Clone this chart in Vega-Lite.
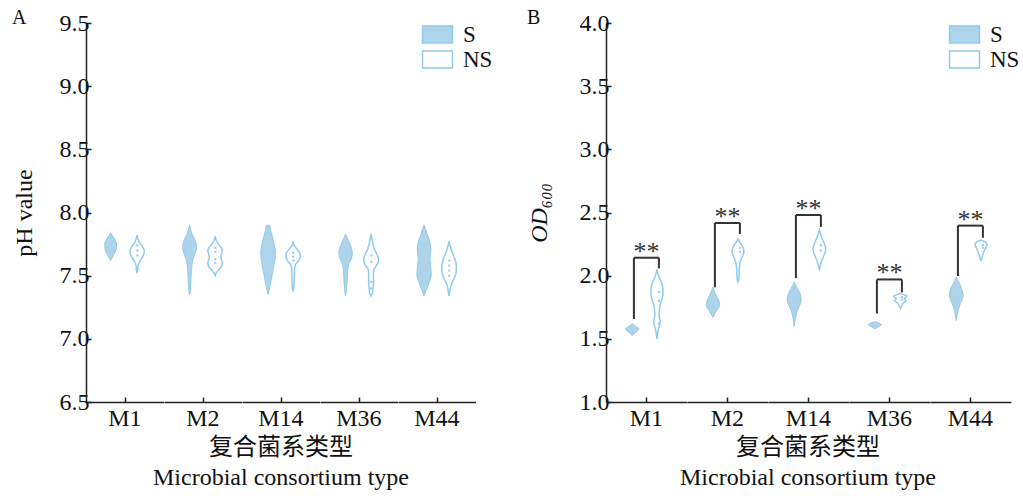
{
 "$schema": "https://vega.github.io/schema/vega-lite/v6.json",
 "padding": {"left": 12, "top": 8, "right": 2, "bottom": 0},
 "config": {
  "font": "Liberation Serif",
  "view": {"stroke": null},
  "axis": {"grid": false, "domainColor": "#222", "tickColor": "#222", "labelColor": "#111", "titleColor": "#111", "labelFont": "Liberation Serif", "titleFont": "Liberation Serif", "labelFontSize": 24, "titleFontSize": 24, "titleFontWeight": "normal", "domainWidth": 1.5, "tickWidth": 1.5},
  "header": {"labelOrient": "bottom", "titleOrient": "bottom", "labelFont": "Liberation Serif", "labelFontSize": 24, "labelColor": "#111", "labelPadding": 4, "titleFont": "Liberation Serif, Noto Sans CJK SC", "titleFontSize": 24, "titleFontWeight": "normal", "titleColor": "#111", "titlePadding": -5, "titleLineHeight": 30}
 },
 "datasets": {
  "vals": [
   {"panel":"A","group":"M1","series":"S","value":7.84,"density":0},{"panel":"A","group":"M1","series":"S","value":7.82,"density":3},{"panel":"A","group":"M1","series":"S","value":7.79,"density":8},{"panel":"A","group":"M1","series":"S","value":7.76,"density":12},{"panel":"A","group":"M1","series":"S","value":7.73,"density":12},{"panel":"A","group":"M1","series":"S","value":7.70,"density":11},{"panel":"A","group":"M1","series":"S","value":7.67,"density":7},{"panel":"A","group":"M1","series":"S","value":7.64,"density":3},{"panel":"A","group":"M1","series":"S","value":7.62,"density":0},
   {"panel":"A","group":"M1","series":"NS","value":7.82,"density":0},{"panel":"A","group":"M1","series":"NS","value":7.79,"density":2},{"panel":"A","group":"M1","series":"NS","value":7.76,"density":5},{"panel":"A","group":"M1","series":"NS","value":7.73,"density":11},{"panel":"A","group":"M1","series":"NS","value":7.70,"density":15},{"panel":"A","group":"M1","series":"NS","value":7.67,"density":14},{"panel":"A","group":"M1","series":"NS","value":7.64,"density":10},{"panel":"A","group":"M1","series":"NS","value":7.61,"density":5},{"panel":"A","group":"M1","series":"NS","value":7.58,"density":2},{"panel":"A","group":"M1","series":"NS","value":7.55,"density":1.5},{"panel":"A","group":"M1","series":"NS","value":7.52,"density":0},
   {"panel":"A","group":"M2","series":"S","value":7.90,"density":0},{"panel":"A","group":"M2","series":"S","value":7.87,"density":2},{"panel":"A","group":"M2","series":"S","value":7.83,"density":5},{"panel":"A","group":"M2","series":"S","value":7.79,"density":10},{"panel":"A","group":"M2","series":"S","value":7.75,"density":14},{"panel":"A","group":"M2","series":"S","value":7.71,"density":14},{"panel":"A","group":"M2","series":"S","value":7.67,"density":11},{"panel":"A","group":"M2","series":"S","value":7.63,"density":7},{"panel":"A","group":"M2","series":"S","value":7.59,"density":5},{"panel":"A","group":"M2","series":"S","value":7.55,"density":4},{"panel":"A","group":"M2","series":"S","value":7.50,"density":3},{"panel":"A","group":"M2","series":"S","value":7.45,"density":2.5},{"panel":"A","group":"M2","series":"S","value":7.40,"density":2},{"panel":"A","group":"M2","series":"S","value":7.36,"density":1},{"panel":"A","group":"M2","series":"S","value":7.35,"density":0},
   {"panel":"A","group":"M2","series":"NS","value":7.81,"density":0},{"panel":"A","group":"M2","series":"NS","value":7.78,"density":2},{"panel":"A","group":"M2","series":"NS","value":7.75,"density":7},{"panel":"A","group":"M2","series":"NS","value":7.72,"density":13},{"panel":"A","group":"M2","series":"NS","value":7.70,"density":15},{"panel":"A","group":"M2","series":"NS","value":7.68,"density":14},{"panel":"A","group":"M2","series":"NS","value":7.655,"density":12},{"panel":"A","group":"M2","series":"NS","value":7.63,"density":13},{"panel":"A","group":"M2","series":"NS","value":7.60,"density":15},{"panel":"A","group":"M2","series":"NS","value":7.57,"density":13},{"panel":"A","group":"M2","series":"NS","value":7.54,"density":6},{"panel":"A","group":"M2","series":"NS","value":7.52,"density":2},{"panel":"A","group":"M2","series":"NS","value":7.50,"density":0},
   {"panel":"A","group":"M14","series":"S","value":7.90,"density":0},{"panel":"A","group":"M14","series":"S","value":7.895,"density":4},{"panel":"A","group":"M14","series":"S","value":7.86,"density":5},{"panel":"A","group":"M14","series":"S","value":7.82,"density":8},{"panel":"A","group":"M14","series":"S","value":7.78,"density":11},{"panel":"A","group":"M14","series":"S","value":7.74,"density":13},{"panel":"A","group":"M14","series":"S","value":7.70,"density":15},{"panel":"A","group":"M14","series":"S","value":7.66,"density":15},{"panel":"A","group":"M14","series":"S","value":7.62,"density":14},{"panel":"A","group":"M14","series":"S","value":7.58,"density":12},{"panel":"A","group":"M14","series":"S","value":7.54,"density":10},{"panel":"A","group":"M14","series":"S","value":7.50,"density":8},{"panel":"A","group":"M14","series":"S","value":7.46,"density":6},{"panel":"A","group":"M14","series":"S","value":7.42,"density":4},{"panel":"A","group":"M14","series":"S","value":7.38,"density":2},{"panel":"A","group":"M14","series":"S","value":7.35,"density":0},
   {"panel":"A","group":"M14","series":"NS","value":7.77,"density":0},{"panel":"A","group":"M14","series":"NS","value":7.74,"density":2},{"panel":"A","group":"M14","series":"NS","value":7.71,"density":8},{"panel":"A","group":"M14","series":"NS","value":7.68,"density":14},{"panel":"A","group":"M14","series":"NS","value":7.65,"density":15},{"panel":"A","group":"M14","series":"NS","value":7.62,"density":12},{"panel":"A","group":"M14","series":"NS","value":7.59,"density":5},{"panel":"A","group":"M14","series":"NS","value":7.56,"density":3},{"panel":"A","group":"M14","series":"NS","value":7.50,"density":2.5},{"panel":"A","group":"M14","series":"NS","value":7.44,"density":2},{"panel":"A","group":"M14","series":"NS","value":7.40,"density":1.5},{"panel":"A","group":"M14","series":"NS","value":7.38,"density":0},
   {"panel":"A","group":"M36","series":"S","value":7.83,"density":0},{"panel":"A","group":"M36","series":"S","value":7.80,"density":3},{"panel":"A","group":"M36","series":"S","value":7.76,"density":8},{"panel":"A","group":"M36","series":"S","value":7.72,"density":12},{"panel":"A","group":"M36","series":"S","value":7.68,"density":14},{"panel":"A","group":"M36","series":"S","value":7.65,"density":13},{"panel":"A","group":"M36","series":"S","value":7.62,"density":10},{"panel":"A","group":"M36","series":"S","value":7.59,"density":6},{"panel":"A","group":"M36","series":"S","value":7.56,"density":5},{"panel":"A","group":"M36","series":"S","value":7.52,"density":4},{"panel":"A","group":"M36","series":"S","value":7.48,"density":3.5},{"panel":"A","group":"M36","series":"S","value":7.44,"density":3},{"panel":"A","group":"M36","series":"S","value":7.40,"density":2},{"panel":"A","group":"M36","series":"S","value":7.36,"density":1},{"panel":"A","group":"M36","series":"S","value":7.34,"density":0},
   {"panel":"A","group":"M36","series":"NS","value":7.83,"density":0},{"panel":"A","group":"M36","series":"NS","value":7.79,"density":2},{"panel":"A","group":"M36","series":"NS","value":7.75,"density":4},{"panel":"A","group":"M36","series":"NS","value":7.71,"density":7},{"panel":"A","group":"M36","series":"NS","value":7.67,"density":12},{"panel":"A","group":"M36","series":"NS","value":7.64,"density":15},{"panel":"A","group":"M36","series":"NS","value":7.61,"density":15},{"panel":"A","group":"M36","series":"NS","value":7.58,"density":11},{"panel":"A","group":"M36","series":"NS","value":7.55,"density":6},{"panel":"A","group":"M36","series":"NS","value":7.52,"density":5},{"panel":"A","group":"M36","series":"NS","value":7.48,"density":5},{"panel":"A","group":"M36","series":"NS","value":7.44,"density":5},{"panel":"A","group":"M36","series":"NS","value":7.40,"density":4},{"panel":"A","group":"M36","series":"NS","value":7.36,"density":3},{"panel":"A","group":"M36","series":"NS","value":7.34,"density":0},
   {"panel":"A","group":"M44","series":"S","value":7.90,"density":0},{"panel":"A","group":"M44","series":"S","value":7.87,"density":3},{"panel":"A","group":"M44","series":"S","value":7.83,"density":6},{"panel":"A","group":"M44","series":"S","value":7.79,"density":10},{"panel":"A","group":"M44","series":"S","value":7.75,"density":13},{"panel":"A","group":"M44","series":"S","value":7.71,"density":14},{"panel":"A","group":"M44","series":"S","value":7.67,"density":13},{"panel":"A","group":"M44","series":"S","value":7.63,"density":12},{"panel":"A","group":"M44","series":"S","value":7.59,"density":13},{"panel":"A","group":"M44","series":"S","value":7.55,"density":14},{"panel":"A","group":"M44","series":"S","value":7.51,"density":15},{"panel":"A","group":"M44","series":"S","value":7.47,"density":13},{"panel":"A","group":"M44","series":"S","value":7.43,"density":9},{"panel":"A","group":"M44","series":"S","value":7.39,"density":5},{"panel":"A","group":"M44","series":"S","value":7.36,"density":2},{"panel":"A","group":"M44","series":"S","value":7.34,"density":0},
   {"panel":"A","group":"M44","series":"NS","value":7.77,"density":0},{"panel":"A","group":"M44","series":"NS","value":7.74,"density":2},{"panel":"A","group":"M44","series":"NS","value":7.70,"density":5},{"panel":"A","group":"M44","series":"NS","value":7.66,"density":9},{"panel":"A","group":"M44","series":"NS","value":7.62,"density":13},{"panel":"A","group":"M44","series":"NS","value":7.58,"density":15},{"panel":"A","group":"M44","series":"NS","value":7.54,"density":15},{"panel":"A","group":"M44","series":"NS","value":7.50,"density":13},{"panel":"A","group":"M44","series":"NS","value":7.46,"density":8},{"panel":"A","group":"M44","series":"NS","value":7.42,"density":4},{"panel":"A","group":"M44","series":"NS","value":7.39,"density":2},{"panel":"A","group":"M44","series":"NS","value":7.36,"density":1},{"panel":"A","group":"M44","series":"NS","value":7.34,"density":0},

   {"panel":"B","group":"M1","series":"S","value":1.62,"density":0},{"panel":"B","group":"M1","series":"S","value":1.60,"density":8},{"panel":"B","group":"M1","series":"S","value":1.58,"density":17},{"panel":"B","group":"M1","series":"S","value":1.56,"density":12},{"panel":"B","group":"M1","series":"S","value":1.54,"density":4},{"panel":"B","group":"M1","series":"S","value":1.525,"density":0},
   {"panel":"B","group":"M1","series":"NS","value":2.05,"density":0},{"panel":"B","group":"M1","series":"NS","value":2.02,"density":2},{"panel":"B","group":"M1","series":"NS","value":1.99,"density":5},{"panel":"B","group":"M1","series":"NS","value":1.96,"density":9},{"panel":"B","group":"M1","series":"NS","value":1.93,"density":13},{"panel":"B","group":"M1","series":"NS","value":1.89,"density":15},{"panel":"B","group":"M1","series":"NS","value":1.85,"density":15},{"panel":"B","group":"M1","series":"NS","value":1.81,"density":12},{"panel":"B","group":"M1","series":"NS","value":1.77,"density":8},{"panel":"B","group":"M1","series":"NS","value":1.73,"density":6},{"panel":"B","group":"M1","series":"NS","value":1.70,"density":5},{"panel":"B","group":"M1","series":"NS","value":1.67,"density":6},{"panel":"B","group":"M1","series":"NS","value":1.64,"density":8},{"panel":"B","group":"M1","series":"NS","value":1.61,"density":7},{"panel":"B","group":"M1","series":"NS","value":1.58,"density":4},{"panel":"B","group":"M1","series":"NS","value":1.55,"density":2},{"panel":"B","group":"M1","series":"NS","value":1.52,"density":1},{"panel":"B","group":"M1","series":"NS","value":1.50,"density":0},
   {"panel":"B","group":"M2","series":"S","value":1.91,"density":0},{"panel":"B","group":"M2","series":"S","value":1.88,"density":3},{"panel":"B","group":"M2","series":"S","value":1.85,"density":7},{"panel":"B","group":"M2","series":"S","value":1.82,"density":12},{"panel":"B","group":"M2","series":"S","value":1.79,"density":16},{"panel":"B","group":"M2","series":"S","value":1.76,"density":16},{"panel":"B","group":"M2","series":"S","value":1.73,"density":11},{"panel":"B","group":"M2","series":"S","value":1.70,"density":5},{"panel":"B","group":"M2","series":"S","value":1.68,"density":1.5},{"panel":"B","group":"M2","series":"S","value":1.67,"density":0},
   {"panel":"B","group":"M2","series":"NS","value":2.29,"density":0},{"panel":"B","group":"M2","series":"NS","value":2.27,"density":3},{"panel":"B","group":"M2","series":"NS","value":2.25,"density":8},{"panel":"B","group":"M2","series":"NS","value":2.22,"density":13},{"panel":"B","group":"M2","series":"NS","value":2.19,"density":15},{"panel":"B","group":"M2","series":"NS","value":2.16,"density":12},{"panel":"B","group":"M2","series":"NS","value":2.13,"density":8},{"panel":"B","group":"M2","series":"NS","value":2.10,"density":5},{"panel":"B","group":"M2","series":"NS","value":2.07,"density":3.5},{"panel":"B","group":"M2","series":"NS","value":2.03,"density":3},{"panel":"B","group":"M2","series":"NS","value":1.99,"density":2.5},{"panel":"B","group":"M2","series":"NS","value":1.96,"density":1.5},{"panel":"B","group":"M2","series":"NS","value":1.95,"density":0},
   {"panel":"B","group":"M14","series":"S","value":1.95,"density":0},{"panel":"B","group":"M14","series":"S","value":1.92,"density":4},{"panel":"B","group":"M14","series":"S","value":1.89,"density":9},{"panel":"B","group":"M14","series":"S","value":1.86,"density":14},{"panel":"B","group":"M14","series":"S","value":1.83,"density":17},{"panel":"B","group":"M14","series":"S","value":1.80,"density":17},{"panel":"B","group":"M14","series":"S","value":1.77,"density":14},{"panel":"B","group":"M14","series":"S","value":1.74,"density":10},{"panel":"B","group":"M14","series":"S","value":1.71,"density":6},{"panel":"B","group":"M14","series":"S","value":1.68,"density":4},{"panel":"B","group":"M14","series":"S","value":1.65,"density":2},{"panel":"B","group":"M14","series":"S","value":1.62,"density":1},{"panel":"B","group":"M14","series":"S","value":1.60,"density":0},
   {"panel":"B","group":"M14","series":"NS","value":2.36,"density":0},{"panel":"B","group":"M14","series":"NS","value":2.33,"density":3},{"panel":"B","group":"M14","series":"NS","value":2.30,"density":6},{"panel":"B","group":"M14","series":"NS","value":2.27,"density":10},{"panel":"B","group":"M14","series":"NS","value":2.24,"density":14},{"panel":"B","group":"M14","series":"NS","value":2.21,"density":16},{"panel":"B","group":"M14","series":"NS","value":2.18,"density":14},{"panel":"B","group":"M14","series":"NS","value":2.15,"density":10},{"panel":"B","group":"M14","series":"NS","value":2.12,"density":6},{"panel":"B","group":"M14","series":"NS","value":2.09,"density":3},{"panel":"B","group":"M14","series":"NS","value":2.06,"density":1},{"panel":"B","group":"M14","series":"NS","value":2.05,"density":0},
   {"panel":"B","group":"M36","series":"S","value":1.635,"density":0},{"panel":"B","group":"M36","series":"S","value":1.625,"density":9},{"panel":"B","group":"M36","series":"S","value":1.615,"density":16},{"panel":"B","group":"M36","series":"S","value":1.605,"density":14},{"panel":"B","group":"M36","series":"S","value":1.595,"density":8},{"panel":"B","group":"M36","series":"S","value":1.585,"density":3},{"panel":"B","group":"M36","series":"S","value":1.578,"density":0},
   {"panel":"B","group":"M36","series":"NS","value":1.86,"density":0},{"panel":"B","group":"M36","series":"NS","value":1.85,"density":8},{"panel":"B","group":"M36","series":"NS","value":1.84,"density":16},{"panel":"B","group":"M36","series":"NS","value":1.83,"density":14},{"panel":"B","group":"M36","series":"NS","value":1.82,"density":10},{"panel":"B","group":"M36","series":"NS","value":1.81,"density":12},{"panel":"B","group":"M36","series":"NS","value":1.80,"density":14},{"panel":"B","group":"M36","series":"NS","value":1.79,"density":10},{"panel":"B","group":"M36","series":"NS","value":1.78,"density":6},{"panel":"B","group":"M36","series":"NS","value":1.76,"density":3},{"panel":"B","group":"M36","series":"NS","value":1.74,"density":0},
   {"panel":"B","group":"M44","series":"S","value":1.99,"density":0},{"panel":"B","group":"M44","series":"S","value":1.96,"density":4},{"panel":"B","group":"M44","series":"S","value":1.93,"density":9},{"panel":"B","group":"M44","series":"S","value":1.90,"density":13},{"panel":"B","group":"M44","series":"S","value":1.87,"density":16},{"panel":"B","group":"M44","series":"S","value":1.84,"density":17},{"panel":"B","group":"M44","series":"S","value":1.81,"density":14},{"panel":"B","group":"M44","series":"S","value":1.78,"density":10},{"panel":"B","group":"M44","series":"S","value":1.75,"density":7},{"panel":"B","group":"M44","series":"S","value":1.72,"density":4},{"panel":"B","group":"M44","series":"S","value":1.69,"density":2},{"panel":"B","group":"M44","series":"S","value":1.66,"density":1},{"panel":"B","group":"M44","series":"S","value":1.645,"density":0},
   {"panel":"B","group":"M44","series":"NS","value":2.28,"density":0},{"panel":"B","group":"M44","series":"NS","value":2.27,"density":10},{"panel":"B","group":"M44","series":"NS","value":2.25,"density":15},{"panel":"B","group":"M44","series":"NS","value":2.23,"density":13},{"panel":"B","group":"M44","series":"NS","value":2.21,"density":10},{"panel":"B","group":"M44","series":"NS","value":2.19,"density":7},{"panel":"B","group":"M44","series":"NS","value":2.17,"density":5},{"panel":"B","group":"M44","series":"NS","value":2.15,"density":3},{"panel":"B","group":"M44","series":"NS","value":2.13,"density":2},{"panel":"B","group":"M44","series":"NS","value":2.12,"density":0},

   {"panel":"B","group":"M1","s_top":1.657,"ns_top":2.058,"bar":2.142,"label":"**"},
   {"panel":"B","group":"M2","s_top":1.908,"ns_top":2.33,"bar":2.417,"label":"**"},
   {"panel":"B","group":"M14","s_top":1.98,"ns_top":2.386,"bar":2.48,"label":"**"},
   {"panel":"B","group":"M36","s_top":1.70,"ns_top":1.868,"bar":1.97,"label":"**"},
   {"panel":"B","group":"M44","s_top":1.997,"ns_top":2.30,"bar":2.396,"label":"**"},

   {"panel":"A","group":"M1","series":"NS","dot":7.74},{"panel":"A","group":"M1","series":"NS","dot":7.70},{"panel":"A","group":"M1","series":"NS","dot":7.66},
   {"panel":"A","group":"M2","series":"NS","dot":7.72},{"panel":"A","group":"M2","series":"NS","dot":7.69},{"panel":"A","group":"M2","series":"NS","dot":7.63},{"panel":"A","group":"M2","series":"NS","dot":7.60},
   {"panel":"A","group":"M14","series":"NS","dot":7.68},{"panel":"A","group":"M14","series":"NS","dot":7.65},{"panel":"A","group":"M14","series":"NS","dot":7.62},
   {"panel":"A","group":"M36","series":"NS","dot":7.66},{"panel":"A","group":"M36","series":"NS","dot":7.61},{"panel":"A","group":"M36","series":"NS","dot":7.45},{"panel":"A","group":"M36","series":"NS","dot":7.40},
   {"panel":"A","group":"M44","series":"NS","dot":7.62},{"panel":"A","group":"M44","series":"NS","dot":7.58},{"panel":"A","group":"M44","series":"NS","dot":7.54},{"panel":"A","group":"M44","series":"NS","dot":7.50},
   {"panel":"B","group":"M1","series":"NS","dot":1.87},{"panel":"B","group":"M1","series":"NS","dot":1.80},{"panel":"B","group":"M1","series":"NS","dot":1.62},
   {"panel":"B","group":"M2","series":"NS","dot":2.22},{"panel":"B","group":"M2","series":"NS","dot":2.19},
   {"panel":"B","group":"M14","series":"NS","dot":2.24},{"panel":"B","group":"M14","series":"NS","dot":2.20},
   {"panel":"B","group":"M36","series":"NS","dot":1.83},{"panel":"B","group":"M36","series":"NS","dot":1.81},
   {"panel":"B","group":"M44","series":"NS","dot":2.24},{"panel":"B","group":"M44","series":"NS","dot":2.22}
  ]
 },
 "hconcat": [
  {
   "title": {"text": "A", "anchor": "start", "frame": "bounds", "font": "Liberation Serif", "fontSize": 20, "fontWeight": "normal", "color": "#111", "offset": -17},
   "data": {"name": "vals"},
   "transform": [{"filter": "datum.panel == 'A'"}],
   "facet": {"column": {"field": "group", "type": "nominal", "sort": ["M1", "M2", "M14", "M36", "M44"], "title": ["复合菌系类型", "Microbial consortium type"]}},
   "spacing": {"column": 0},
   "spec": {
    "width": 77.6,
    "height": 379,
    "layer": [
     {
      "transform": [{"filter": "datum.series == 'S' && isValid(datum.density)"}],
      "mark": {"type": "area", "orient": "horizontal", "stroke": "#92c9e8", "strokeWidth": 1, "xOffset": -20, "x2Offset": -20},
      "encoding": {
       "y": {"field": "value", "type": "quantitative", "scale": {"domain": [6.5, 9.5], "nice": false, "zero": false},
        "axis": {"title": "pH value", "values": [6.5, 6.75, 7, 7.25, 7.5, 7.75, 8, 8.25, 8.5, 8.75, 9, 9.25, 9.5], "labelExpr": "(datum.value*4) % 2 == 0 ? format(datum.value, '.1f') : ''", "tickSize": {"condition": {"test": "(datum.value*4) % 2 == 0", "value": -5}, "value": -2.5}, "labelPadding": 2, "titlePadding": 23, "labelOverlap": false, "labelFlush": false}},
       "x": {"field": "density", "type": "quantitative", "stack": "center", "impute": null, "scale": {"domain": [-38.8, 38.8]},
        "axis": {"values": [0], "labels": false, "title": null, "tickSize": -5, "orient": "bottom"}},
       "fill": {"field": "series", "type": "nominal", "scale": {"domain": ["S", "NS"], "range": ["#aed4ec", "#ffffff"]},
        "legend": {"orient": "none", "legendX": 340, "legendY": 0, "title": null, "symbolType": "M-1.76,-1H1.76V1H-1.76Z", "symbolSize": 289, "symbolStrokeColor": "#8fcbea", "symbolStrokeWidth": 1.5, "labelFont": "Liberation Serif", "labelFontSize": 23, "labelColor": "#111", "labelOffset": 14, "rowPadding": 1, "padding": 0}}
      }
     },
     {
      "transform": [{"filter": "datum.series == 'NS' && isValid(datum.density)"}],
      "mark": {"type": "area", "orient": "horizontal", "fill": "#ffffff", "stroke": "#8ecbee", "strokeWidth": 1.5, "xOffset": 5, "x2Offset": 5},
      "encoding": {
       "y": {"field": "value", "type": "quantitative"},
       "x": {"field": "density", "type": "quantitative", "stack": "center", "impute": null}
      }
     },
     {
      "transform": [{"filter": "isValid(datum.dot)"}],
      "mark": {"type": "point", "filled": true, "size": 6, "color": "#86c3e6", "opacity": 0.8, "xOffset": 12.5},
      "encoding": {"x": {"datum": 0}, "y": {"field": "dot", "type": "quantitative"}}
     }
    ]
   }
  },
  {
   "title": {"text": "B", "anchor": "start", "frame": "bounds", "font": "Liberation Serif", "fontSize": 20, "fontWeight": "normal", "color": "#111", "offset": -17},
   "data": {"name": "vals"},
   "transform": [{"filter": "datum.panel == 'B'"}],
   "facet": {"column": {"field": "group", "type": "nominal", "sort": ["M1", "M2", "M14", "M36", "M44"], "title": ["复合菌系类型", "Microbial consortium type"]}},
   "spacing": {"column": 0},
   "spec": {
    "width": 80.8,
    "height": 379,
    "layer": [
     {
      "transform": [{"filter": "datum.series == 'S' && isValid(datum.density)"}],
      "mark": {"type": "area", "orient": "horizontal", "stroke": "#92c9e8", "strokeWidth": 1, "xOffset": -21, "x2Offset": -21},
      "encoding": {
       "y": {"field": "value", "type": "quantitative", "scale": {"domain": [1.0, 4.0], "nice": false, "zero": false},
        "axis": {"title": "OD₆₀₀", "titleFontStyle": "italic", "values": [1, 1.25, 1.5, 1.75, 2, 2.25, 2.5, 2.75, 3, 3.25, 3.5, 3.75, 4], "labelExpr": "(datum.value*4) % 2 == 0 ? format(datum.value, '.1f') : ''", "tickSize": {"condition": {"test": "(datum.value*4) % 2 == 0", "value": -5}, "value": -2.5}, "labelPadding": 2, "titlePadding": 28, "labelOverlap": false, "labelFlush": false}},
       "x": {"field": "density", "type": "quantitative", "stack": "center", "impute": null, "scale": {"domain": [-40.4, 40.4]},
        "axis": {"values": [0], "labels": false, "title": null, "tickSize": -5, "orient": "bottom"}},
       "fill": {"field": "series", "type": "nominal", "scale": {"domain": ["S", "NS"], "range": ["#aed4ec", "#ffffff"]},
        "legend": {"orient": "none", "legendX": 347, "legendY": 0, "title": null, "symbolType": "M-1.76,-1H1.76V1H-1.76Z", "symbolSize": 289, "symbolStrokeColor": "#8fcbea", "symbolStrokeWidth": 1.5, "labelFont": "Liberation Serif", "labelFontSize": 23, "labelColor": "#111", "labelOffset": 14, "rowPadding": 1, "padding": 0}}
      }
     },
     {
      "transform": [{"filter": "datum.series == 'NS' && isValid(datum.density)"}],
      "mark": {"type": "area", "orient": "horizontal", "fill": "#ffffff", "stroke": "#8ecbee", "strokeWidth": 1.5, "xOffset": 4.5, "x2Offset": 4.5},
      "encoding": {
       "y": {"field": "value", "type": "quantitative"},
       "x": {"field": "density", "type": "quantitative", "stack": "center", "impute": null}
      }
     },
     {
      "transform": [{"filter": "isValid(datum.dot)"}],
      "mark": {"type": "point", "filled": true, "size": 6, "color": "#86c3e6", "opacity": 0.8, "xOffset": 12.5},
      "encoding": {"x": {"datum": 0}, "y": {"field": "dot", "type": "quantitative"}}
     },
     {
      "transform": [{"filter": "isValid(datum.bar)"}],
      "mark": {"type": "rule", "color": "#333", "strokeWidth": 2, "xOffset": -12.5},
      "encoding": {"x": {"datum": 0}, "y": {"field": "s_top", "type": "quantitative"}, "y2": {"field": "bar"}}
     },
     {
      "transform": [{"filter": "isValid(datum.bar)"}],
      "mark": {"type": "rule", "color": "#333", "strokeWidth": 2, "xOffset": 12.5},
      "encoding": {"x": {"datum": 0}, "y": {"field": "ns_top", "type": "quantitative"}, "y2": {"field": "bar"}}
     },
     {
      "transform": [{"filter": "isValid(datum.bar)"}],
      "mark": {"type": "rule", "color": "#333", "strokeWidth": 2, "xOffset": -12.5, "x2Offset": 12.5},
      "encoding": {"x": {"datum": 0}, "x2": {"datum": 0}, "y": {"field": "bar", "type": "quantitative"}}
     },
     {
      "transform": [{"filter": "isValid(datum.bar)"}],
      "mark": {"type": "text", "font": "Liberation Serif", "fontSize": 26, "color": "#333", "baseline": "alphabetic", "align": "center", "dy": 2},
      "encoding": {"x": {"datum": 0}, "y": {"field": "bar", "type": "quantitative"}, "text": {"field": "label"}}
     }
    ]
   }
  }
 ],
 "spacing": 34,
 "resolve": {"scale": {"y": "independent", "x": "independent", "fill": "independent"}, "legend": {"fill": "independent"}}
}
